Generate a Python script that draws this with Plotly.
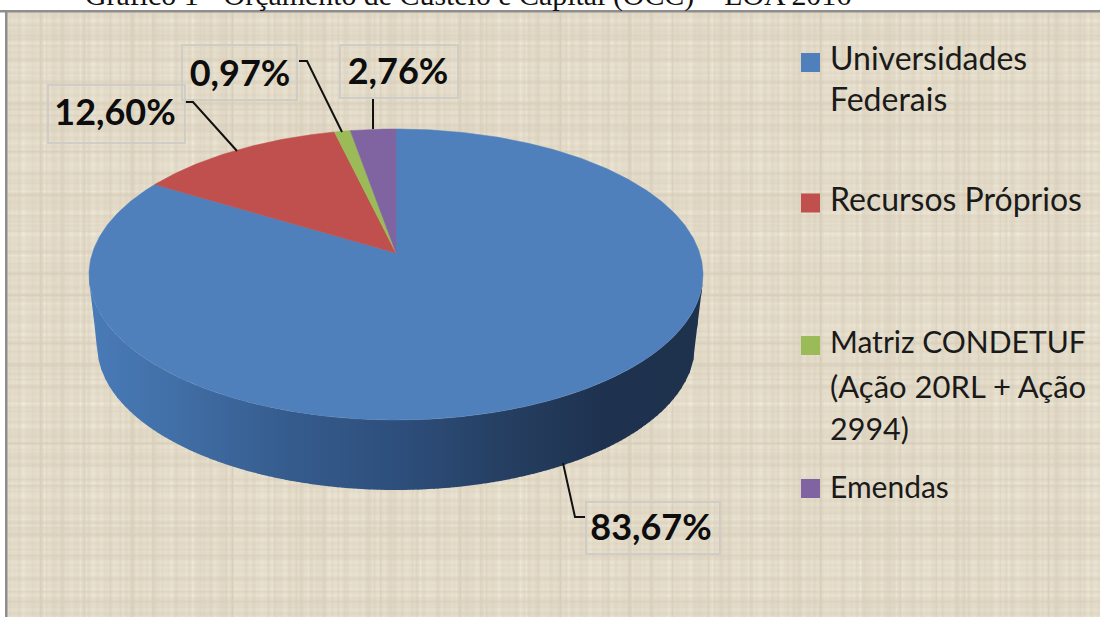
import numpy as np
import plotly.graph_objects as go

# ---- data ----
categories = ["Universidades Federais", "Recursos Próprios",
              "Matriz CONDETUF (Ação 20RL + Ação 2994)", "Emendas"]
values = [83.67, 12.60, 0.97, 2.76]
value_labels = ["83,67%", "12,60%", "0,97%", "2,76%"]
colors = ["#4f80bc", "#c0504d", "#9bbb59", "#8064a2"]
title = "Gráfico 1 - Orçamento de Custeio e Capital (OCC) – LOA 2016"
legend_lines = [["Universidades", "Federais"], ["Recursos Próprios"],
                ["Matriz CONDETUF", "(Ação 20RL + Ação", "2994)"], ["Emendas"]]

# ---- geometry of the tilted pie, in pixel units of the axes ----
CX, CY, RX, RY = 396.0, 274.5, 307.0, 145.5
APEX_SHIFT = 0.148
BCY, BRX, BRY = 345.0, 299.0, 145.0

def rim(theta):
    """Perspective mapping of a pie angle (clockwise from top) to the elliptical rim."""
    s, c = np.sin(theta), np.cos(theta)
    d = APEX_SHIFT
    yy = (c + d) / (1 + d * c)
    xx = s * np.sqrt(1 - d * d) / (1 + d * c)
    return CX + RX * xx, CY - RY * yy

apex_x, apex_y = CX, CY - RY * APEX_SHIFT

fig = go.Figure()

# ---- canvas texture (decorative woven background, not data) ----
def weave(t, ph):
    return (0.30 * np.sin(2 * np.pi * t / 5.3 + ph) * (0.5 + 0.5 * np.sin(2 * np.pi * t / 37 + ph))
            + 0.22 * np.sin(2 * np.pi * t / 7.1 + 2 * ph)
            + 0.18 * np.sin(2 * np.pi * t / 11.3 + 3 * ph)
            + 0.16 * np.sin(2 * np.pi * t / 23.7 + 1 + ph)
            + 0.10 * np.sin(2 * np.pi * t / 83 + 2 * ph))

tx = np.arange(8, 1101, 2.0)
ty = np.arange(13, 618, 2.0)
A, B = np.meshgrid(weave(tx, 0.3), weave(ty, 1.1))
tz = np.round(0.42 * (A + B) + 0.55 * A * B, 3).astype("float32")
fig.add_trace(go.Heatmap(x=tx, y=ty, z=tz, zsmooth="best", showscale=False, hoverinfo="skip",
                         zmin=-0.9, zmax=0.9,
                         colorscale=[[0, "#c2b9a2"], [0.5, "#e2dac7"], [1, "#f5efe1"]]))

# ---- side wall as vertical gradient strips ----
def side_colour(px):
    stops_x = [89, 170, 290, 400, 520, 600, 703]
    stops = np.array([[74, 124, 184], [66, 112, 168], [54, 92, 142], [46, 79, 124],
                      [37, 61, 95], [31, 51, 80], [30, 50, 78]])
    rgb = [np.interp(px, stops_x, stops[:, i]) for i in range(3)]
    return "rgb(%d,%d,%d)" % tuple(int(v) for v in rgb)

def top_lower(px):
    u = np.clip((px - CX) / RX, -1, 1)
    return CY + RY * np.sqrt(1 - u * u)

def bottom_lower(px):
    dx = abs(px - CX)
    if dx <= BRX:
        return BCY + BRY * np.sqrt(1 - (dx / BRX) ** 2)
    return BCY + (280 - BCY) * (dx - BRX) / (RX - BRX)

edges = np.arange(CX - RX, CX + RX + 4, 4.0)
for x0, x1 in zip(edges[:-1], edges[1:]):
    x1 = min(x1 + 0.6, CX + RX)
    xs = np.linspace(x0, x1, 4)
    up = [float(top_lower(v)) for v in xs]
    lo = [float(bottom_lower(v)) for v in xs]
    fig.add_trace(go.Scatter(x=list(xs) + list(xs[::-1]), y=up + lo[::-1], mode="lines",
                             fill="toself", fillcolor=side_colour((x0 + x1) / 2),
                             line=dict(width=0), hoverinfo="skip", showlegend=False))

# ---- top surface slices, from the values ----
total = sum(values)
start = 0.0
for name, v, col in zip(categories, values, colors):
    end = start + v / total * 2 * np.pi
    th = np.linspace(start, end, max(int(v * 6), 8))
    rx_, ry_ = rim(th)
    fig.add_trace(go.Scatter(x=[apex_x] + rx_.tolist() + [apex_x], y=[apex_y] + ry_.tolist() + [apex_y],
                             mode="lines", fill="toself", fillcolor=col, line=dict(width=0.5, color=col),
                             name=name, showlegend=False, hoverinfo="skip"))
    start = end

# ---- leader lines ----
leaders = [([563, 575, 585], [463, 517, 517]),
           ([185, 193, 237], [102, 102, 151]),
           ([299, 307, 342], [61, 61, 132]),
           ([373, 373], [99, 129])]
for lx, ly in leaders:
    fig.add_trace(go.Scatter(x=lx, y=ly, mode="lines", line=dict(color="#111111", width=2),
                             hoverinfo="skip", showlegend=False))

# ---- data labels ----
label_pos = [(651, 531), (115, 116), (240, 77), (398, 75)]
fig.add_trace(go.Scatter(x=[p[0] for p in label_pos], y=[p[1] for p in label_pos], text=value_labels,
                         mode="text", textposition="middle center", hoverinfo="skip", showlegend=False,
                         textfont=dict(family="Lato", size=36, color="#0d0d0d", weight="bold")))
boxes = [(586, 502, 720, 554), (48, 85, 185, 143), (182, 45, 297, 100), (340, 45, 458, 98)]
shapes = [dict(type="rect", x0=b[0], y0=b[1], x1=b[2], y1=b[3], line=dict(color="rgba(205,203,198,0.9)", width=2),
               layer="above") for b in boxes]

# ---- legend ----
marker_y = [62.5, 203, 345.5, 488.5]
line_y = [[62, 103], [203], [345, 390, 432], [490]]
line_size = [[32, 32], [32], [30, 31, 30.5], [30]]
fig.add_trace(go.Scatter(x=[810.5] * 4, y=marker_y, mode="markers", hoverinfo="skip", showlegend=False,
                         marker=dict(symbol="square", size=19, color=colors, line=dict(width=0))))
lx, ly, lt, ls = [], [], [], []
for lines, ys, sz in zip(legend_lines, line_y, line_size):
    for t, y, s in zip(lines, ys, sz):
        lx.append(830); ly.append(y); lt.append(t); ls.append(s)
fig.add_trace(go.Scatter(x=lx, y=ly, text=lt, mode="text", textposition="middle right", hoverinfo="skip",
                         showlegend=False, textfont=dict(family="Lato", size=ls, color="#1a1a1a")))

# ---- frame ----
shapes += [dict(type="rect", x0=0, x1=1100, y0=10, y1=12.5, fillcolor="#8e8e8e", line=dict(width=0), layer="above"),
           dict(type="rect", x0=5, x1=7.5, y0=10, y1=617, fillcolor="#8e8e8e", line=dict(width=0), layer="above")]

fig.update_layout(
    width=1100, height=617, margin=dict(l=0, r=0, t=0, b=0), paper_bgcolor="white", plot_bgcolor="white",
    showlegend=False, shapes=shapes,
    xaxis=dict(range=[0, 1100], visible=False, fixedrange=True),
    yaxis=dict(range=[617, 0], visible=False, fixedrange=True),
    annotations=[dict(text=title, xref="paper", yref="paper", x=83 / 1100, y=1, xanchor="left", yanchor="middle",
                      yshift=5, showarrow=False, font=dict(family="Liberation Serif", size=29.9, color="#111111"))],
)
fig.write_html("out.html", config=dict(displayModeBar=False),
               post_script="document.body.style.margin='0';document.documentElement.style.overflow='hidden';")
